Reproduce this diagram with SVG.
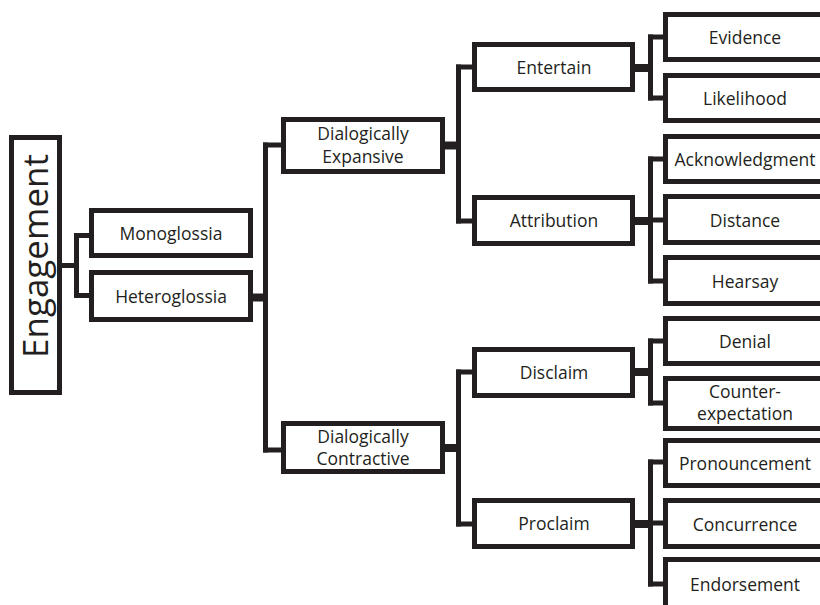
<svg xmlns="http://www.w3.org/2000/svg" width="820" height="605" viewBox="0 0 820 605">
<style>
.box{fill:#fff;stroke:#231f20;stroke-width:5}
.t{font-family:"Open Sans","Noto Sans",sans-serif;font-size:17.5px;fill:#231f20;text-anchor:middle}
.big{font-family:"Open Sans","Noto Sans",sans-serif;font-size:35px;fill:#231f20;text-anchor:middle}
.c{stroke:#231f20;stroke-width:5;fill:none;stroke-linecap:square;stroke-linejoin:miter}
.s{stroke:#231f20;stroke-width:5;fill:none}
.th{stroke:#231f20;stroke-width:8;fill:none}
</style>
<rect width="820" height="605" fill="#fff"/>
<g id="connectors">
<path class="s" d="M62 265.5H76.5"/>
<path class="c" d="M76.5 235.5V295.5"/>
<path class="s" d="M74 235.5H90M74 295.5H90"/>
<path class="th" d="M252 297.5H266"/>
<path class="c" d="M265.5 145V450"/>
<path class="s" d="M263 145H282M263 450H282"/>
<path class="th" d="M444 145.5H459"/>
<path class="th" d="M442 448H459"/>
<path class="c" d="M458.5 67V221M458.5 372V524"/>
<path class="s" d="M456 67H473M456 221H473M456 372H473M456 524H473"/>
<path class="th" d="M634 68H651M634 221H651M634 372H651M634 524H651"/>
<path class="c" d="M650.5 37V98M650.5 159V281M650.5 341V403M650.5 462V584"/>
<path class="s" d="M648 37H666M648 98H666M648 159H666M648 220H666M648 281H666M648 341H666M648 403H666M648 462H666M648 523H666M648 584H666"/>
</g>
<g id="engagement"><rect class="box" x="11.5" y="137.5" width="48" height="255"/><text class="big" transform="translate(47.5,256) rotate(-90)">Engagement</text></g>
<g id="monoglossia"><rect class="box" x="91.5" y="210.5" width="159" height="45"/><text class="t" x="171" y="239.5">Monoglossia</text></g>
<g id="heteroglossia"><rect class="box" x="91.5" y="272.5" width="159" height="47"/><text class="t" x="171" y="302.5">Heteroglossia</text></g>
<g id="expansive"><rect class="box" x="283.5" y="119.5" width="159" height="52"/><text class="t" x="363" y="140">Dialogically</text><text class="t" x="363" y="163">Expansive</text></g>
<g id="contractive"><rect class="box" x="283.5" y="423.5" width="159" height="48"/><text class="t" x="363" y="443">Dialogically</text><text class="t" x="363" y="465">Contractive</text></g>
<g id="entertain"><rect class="box" x="474.5" y="44.5" width="158" height="45"/><text class="t" x="554" y="73.5">Entertain</text></g>
<g id="attribution"><rect class="box" x="474.5" y="197.5" width="158" height="46"/><text class="t" x="554" y="227">Attribution</text></g>
<g id="disclaim"><rect class="box" x="474.5" y="349.5" width="158" height="46"/><text class="t" x="554" y="379">Disclaim</text></g>
<g id="proclaim"><rect class="box" x="474.5" y="500.5" width="158" height="46"/><text class="t" x="554" y="530">Proclaim</text></g>
<g id="evidence"><rect class="box" x="665.5" y="14.5" width="170" height="45"/><text class="t" x="745" y="43.5">Evidence</text></g>
<g id="likelihood"><rect class="box" x="665.5" y="75.5" width="170" height="45"/><text class="t" x="745" y="104.5">Likelihood</text></g>
<g id="acknowledgment"><rect class="box" x="665.5" y="136.5" width="170" height="45"/><text class="t" x="745" y="165.5">Acknowledgment</text></g>
<g id="distance"><rect class="box" x="665.5" y="196.5" width="170" height="46"/><text class="t" x="745" y="226.5">Distance</text></g>
<g id="hearsay"><rect class="box" x="665.5" y="257.5" width="170" height="46"/><text class="t" x="745" y="287.5">Hearsay</text></g>
<g id="denial"><rect class="box" x="665.5" y="318.5" width="170" height="45"/><text class="t" x="745" y="347.5">Denial</text></g>
<g id="counter"><rect class="box" x="665.5" y="378.5" width="170" height="50"/><text class="t" x="745" y="398">Counter-</text><text class="t" x="745" y="420">expectation</text></g>
<g id="pronouncement"><rect class="box" x="665.5" y="440.5" width="170" height="45"/><text class="t" x="745" y="469.5">Pronouncement</text></g>
<g id="concurrence"><rect class="box" x="665.5" y="500.5" width="170" height="46"/><text class="t" x="745" y="530.5">Concurrence</text></g>
<g id="endorsement"><rect class="box" x="665.5" y="559.5" width="170" height="60"/><text class="t" x="745" y="590.5">Endorsement</text></g>
</svg>
